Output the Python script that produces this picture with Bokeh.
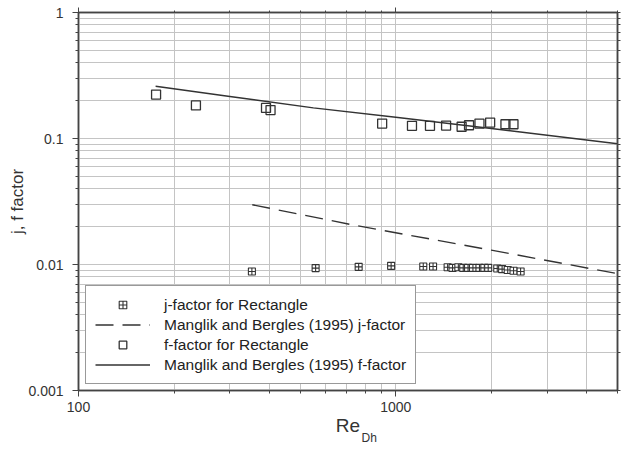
from bokeh.plotting import figure
from bokeh.models import (FixedTicker, CustomJSTickFormatter, LogAxis, Legend,
                          LegendItem, Title)
from bokeh.embed import file_html
from bokeh.resources import INLINE

# ---- data ----
re_j = [352, 559, 764, 967, 1221, 1311, 1457, 1510, 1575, 1632, 1690, 1751,
        1836, 1902, 1956, 2089, 2164, 2254, 2351, 2475]
j_val = [0.00881, 0.00936, 0.00958, 0.00976, 0.00963, 0.00963, 0.0095, 0.0094,
         0.0095, 0.0094, 0.0094, 0.0094, 0.0094, 0.0094, 0.0094, 0.00929,
         0.00919, 0.00904, 0.00892, 0.00881]

re_f = [175.6, 234.5, 390, 403, 906, 1125, 1282, 1441, 1613, 1702, 1836, 1984,
        2217, 2350]
f_val = [0.223, 0.183, 0.175, 0.168, 0.1313, 0.126, 0.126, 0.1267, 0.124,
         0.1274, 0.1313, 0.1337, 0.1297, 0.1297]

re_mb_j = [353, 733, 2000, 5000]
mb_j = [0.0298, 0.0206, 0.0130, 0.00846]

re_mb_f = [175, 300, 550, 1000, 2000, 5000]
mb_f = [0.26, 0.2155, 0.175, 0.1475, 0.12, 0.0908]

x_major = [100, 1000]
x_minor = [200, 300, 400, 500, 600, 700, 800, 900, 2000, 3000, 4000, 5000]
y_major = [0.001, 0.01, 0.1, 1]
y_minor = [0.002, 0.003, 0.004, 0.005, 0.006, 0.007, 0.008, 0.009,
           0.02, 0.03, 0.04, 0.05, 0.06, 0.07, 0.08, 0.09,
           0.2, 0.3, 0.4, 0.5, 0.6, 0.7, 0.8, 0.9]

labels = ["j-factor for Rectangle", "Manglik and Bergles (1995) j-factor",
          "f-factor for Rectangle", "Manglik and Bergles (1995) f-factor"]

FONT = "Liberation Sans"
DARK = "#333333"
AXC = "#444444"
GRID = "#c4c4c4"

p = figure(width=621, height=446, x_axis_type="log", y_axis_type="log",
           x_range=(100, 5000), y_range=(0.001, 1),
           output_backend="svg", toolbar_location=None,
           min_border_left=78, min_border_right=4, min_border_top=12,
           min_border_bottom=56, background_fill_color="white",
           border_fill_color="white")
p.outline_line_color = AXC
p.outline_line_width = 1.5

xt = FixedTicker(ticks=x_major, minor_ticks=x_minor)
yt = FixedTicker(ticks=y_major, minor_ticks=y_minor)
fmt = CustomJSTickFormatter(code="return String(tick);")
blank = CustomJSTickFormatter(code="return '';")

for ax, t in ((p.xaxis[0], xt), (p.yaxis[0], yt)):
    ax.ticker = t
    ax.formatter = fmt
    ax.major_label_text_font = FONT
    ax.major_label_text_font_size = "14px"
    ax.major_label_text_color = DARK
    ax.axis_line_color = AXC
    ax.axis_line_width = 1.5
    ax.major_tick_line_color = AXC
    ax.minor_tick_line_color = AXC
    ax.major_tick_in = 0
    ax.major_tick_out = 6
    ax.minor_tick_in = 0
    ax.minor_tick_out = 3
    ax.axis_label_text_font = FONT
    ax.axis_label_text_font_style = "normal"
    ax.axis_label_text_color = DARK

p.xaxis.major_label_standoff = 5
p.yaxis.major_label_standoff = 9
p.yaxis.axis_label = "j, f factor"
p.yaxis.axis_label_text_font_size = "17px"
p.yaxis.axis_label_standoff = -2
p.xaxis.axis_label = "Re"
p.xaxis.axis_label_text_font_size = "19px"
p.xaxis.axis_label_standoff = 0

p.xgrid.ticker = xt
p.ygrid.ticker = yt
for g in (p.xgrid[0], p.ygrid[0]):
    g.grid_line_color = GRID
    g.grid_line_width = 1
    g.minor_grid_line_color = GRID
    g.minor_grid_line_width = 1

# outward ticks on the top and right sides
top = LogAxis(ticker=xt, formatter=blank, major_label_text_font_size="0px",
              major_label_standoff=0, major_tick_in=0, major_tick_out=5,
              minor_tick_in=0, minor_tick_out=2, axis_line_color=AXC,
              axis_line_width=1.5, major_tick_line_color=AXC,
              minor_tick_line_color=AXC)
right = LogAxis(ticker=yt, formatter=blank, major_label_text_font_size="0px",
                major_label_standoff=0, major_tick_in=0, major_tick_out=3,
                minor_tick_in=0, minor_tick_out=3, axis_line_color=AXC,
                axis_line_width=1.5, major_tick_line_color=AXC,
                minor_tick_line_color=AXC)
p.add_layout(top, "above")
p.add_layout(right, "right")

# ---- glyphs ----
r_mbj = p.line(re_mb_j, mb_j, line_color=DARK, line_width=1.4,
               line_dash="18 9")
r_mbf = p.line(re_mb_f, mb_f, line_color=DARK, line_width=1.4)
r_j = p.scatter(re_j, j_val, marker="square_cross", size=7,
                fill_color="white", line_color=DARK, line_width=1.1)
r_f = p.scatter(re_f, f_val, marker="square", size=9,
                fill_color=None, line_color=DARK, line_width=1.3)

legend = Legend(items=[LegendItem(label=labels[0], renderers=[r_j]),
                       LegendItem(label=labels[1], renderers=[r_mbj]),
                       LegendItem(label=labels[2], renderers=[r_f]),
                       LegendItem(label=labels[3], renderers=[r_mbf])],
                location=(7, 6), orientation="vertical",
                glyph_width=55, glyph_height=19, label_height=19,
                spacing=1, padding=9, margin=0, label_standoff=14,
                label_text_font=FONT, label_text_font_size="15.5px",
                label_text_color="#222222",
                border_line_color="#333333", border_line_width=1.3,
                background_fill_color="white", background_fill_alpha=1.0)
p.add_layout(legend, "center")

# subscript of the x-axis title (zero-height panel below the axis)
p.add_layout(Title(text="Dh", align="left", offset=283, standoff=-16,
                   vertical_align="top", text_font=FONT,
                   text_font_size="12px", text_font_style="normal",
                   text_color=DARK), "below")

open("out.html", "w").write(file_html(p, INLINE))
